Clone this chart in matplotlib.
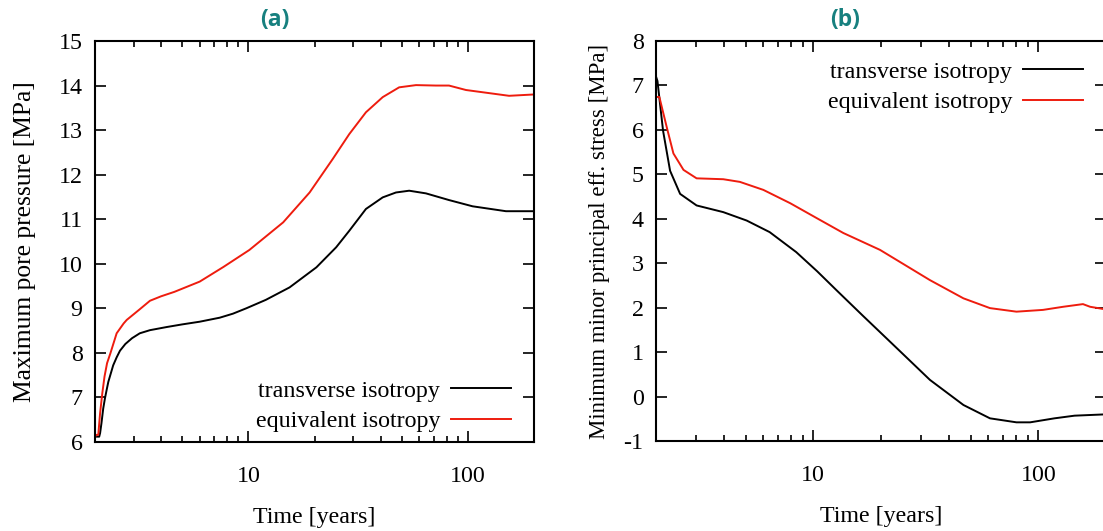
import matplotlib
matplotlib.use("Agg")
import matplotlib.pyplot as plt
from matplotlib.ticker import LogLocator, NullFormatter, FixedLocator, FixedFormatter

'''
Data read off the two panels
'''
# (a) maximum pore pressure [MPa]
t_a_trans = [2.0, 2.09, 2.11, 2.14, 2.18, 2.22, 2.26, 2.30, 2.42, 2.51, 2.60,
             2.75, 2.95, 3.20, 3.56, 4.24, 5.0, 6.0, 7.4, 8.5, 9.77, 12.0, 15.4,
             20.4, 25.1, 28.8, 34.3, 40.9, 47, 54, 64.4, 82, 105, 149, 200]
p_a_trans = [6.12, 6.12, 6.20, 6.42, 6.75, 6.98, 7.17, 7.35, 7.72, 7.90, 8.05,
             8.20, 8.33, 8.44, 8.51, 8.58, 8.64, 8.70, 8.79, 8.88, 9.00, 9.19,
             9.47, 9.92, 10.37, 10.74, 11.23, 11.49, 11.60, 11.64, 11.58, 11.43,
             11.29, 11.18, 11.18]
t_a_equiv = [2.0, 2.03, 2.07, 2.11, 2.16, 2.21, 2.27, 2.35, 2.51, 2.70, 2.79,
             3.2, 3.56, 4.0, 4.6, 6.0, 7.7, 10.1, 14.4, 19.0, 24.2, 28.8, 34.3,
             40.9, 48.6, 58, 71.5, 82, 98, 125, 154, 200]
p_a_equiv = [6.12, 6.16, 6.16, 6.65, 7.10, 7.47, 7.77, 7.99, 8.44, 8.66, 8.74,
             8.98, 9.17, 9.27, 9.37, 9.60, 9.93, 10.31, 10.93, 11.60, 12.35,
             12.91, 13.40, 13.74, 13.96, 14.01, 14.0, 14.0, 13.90, 13.83, 13.77,
             13.80]

# (b) minimum minor principal effective stress [MPa]
t_b_trans = [2.0, 2.03, 2.15, 2.31, 2.56, 3.03, 3.98, 5.06, 6.4, 8.4, 10.4,
             12.7, 16.6, 19.8, 23.5, 33, 46.5, 61, 80, 92, 118, 145, 200]
s_b_trans = [7.2, 7.1, 5.98, 5.08, 4.56, 4.30, 4.15, 3.96, 3.70, 3.25, 2.82,
             2.39, 1.82, 1.45, 1.09, 0.375, -0.19, -0.49, -0.58, -0.58, -0.49,
             -0.43, -0.40]
t_b_equiv = [2.0, 2.07, 2.23, 2.39, 2.65, 3.03, 3.98, 4.72, 6.0, 7.9, 10.4,
             13.6, 19.8, 33, 46.5, 61, 80, 105, 129, 158, 170, 200]
s_b_equiv = [6.74, 6.74, 6.07, 5.47, 5.10, 4.91, 4.89, 4.83, 4.65, 4.35, 4.01,
             3.68, 3.30, 2.62, 2.21, 1.99, 1.91, 1.95, 2.02, 2.08, 2.02, 1.96]

labels = ["transverse isotropy", "equivalent isotropy"]
xticks = [10, 100]

plt.rcParams['font.family'] = ['Liberation Serif', 'DejaVu Serif']
plt.rcParams['font.size'] = 17.3
plt.rcParams['axes.unicode_minus'] = False

W, H = 1103, 531
fig = plt.figure(figsize=(W / 100, H / 100), dpi=100)

def px_axes(x0, y0, x1, y1):
    # axes box given in pixels (top-left origin)
    return fig.add_axes([x0 / W, 1 - y1 / H, (x1 - x0) / W, (y1 - y0) / H])

ax1 = px_axes(95, 41, 534, 442)
ax2 = px_axes(656, 41, 1106, 441)

def style(ax, ylo, yhi):
    ax.set_xscale('log')
    ax.set_xlim(2, 200)
    ax.set_ylim(ylo, yhi)
    ax.xaxis.set_major_locator(FixedLocator(xticks))
    ax.xaxis.set_major_formatter(FixedFormatter([str(v) for v in xticks]))
    ax.xaxis.set_minor_locator(LogLocator(base=10, subs=range(2, 10)))
    ax.xaxis.set_minor_formatter(NullFormatter())
    ax.set_yticks(range(ylo, yhi + 1))
    ax.tick_params(which='both', direction='in', top=True, right=True, width=1.2)
    ax.tick_params(which='major', length=8)
    ax.tick_params(which='minor', length=4.5)
    ax.tick_params(axis='x', which='major', pad=17)
    ax.tick_params(axis='y', which='major', pad=9)
    for sp in ax.spines.values():
        sp.set_linewidth(1.5)
    ax.set_xlabel("Time [years]", labelpad=15)

def add_legend(ax, loc, anchor):
    ax.legend(loc=loc, bbox_to_anchor=anchor, frameon=False,
              markerfirst=False, borderpad=0, handlelength=2.5,
              handletextpad=0.45, labelspacing=0.35, borderaxespad=0)

style(ax1, 6, 15)
ax1.plot(t_a_trans, p_a_trans, color='black', lw=1.4, label=labels[0])
ax1.plot(t_a_equiv, p_a_equiv, color='#ee1c0e', lw=1.4, label=labels[1])
ax1.set_ylabel("Maximum pore pressure [MPa]", fontsize=18.4, labelpad=16)
add_legend(ax1, 'lower right', (0.948, 0.025))

style(ax2, -1, 8)
ax2.plot(t_b_trans, s_b_trans, color='black', lw=1.4, label=labels[0])
ax2.plot(t_b_equiv, s_b_equiv, color='#ee1c0e', lw=1.4, label=labels[1])
ax2.set_ylabel("Minimum minor principal eff. stress [MPa]", fontsize=16.4,
               labelpad=10)
add_legend(ax2, 'upper right', (0.949, 0.95))

# panel titles
for xpix, txt in [(275, "(a)"), (845, "(b)")]:
    fig.text(xpix / W, 1 - 20 / H, txt, ha='center', va='center',
             color='#17807f', fontsize=16.5, fontweight='bold',
             family=['Open Sans', 'DejaVu Sans'])

fig.savefig("out.png", dpi=100)
